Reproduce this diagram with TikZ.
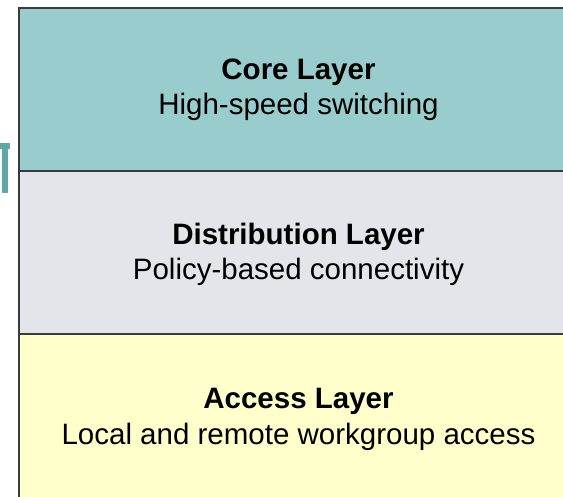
\documentclass[tikz,border=0pt]{standalone}
\usepackage{fontspec}
\setmainfont{Liberation Sans}
\begin{document}
\begin{tikzpicture}[x=1bp,y=-1bp,
  layerbox/.style={draw=edgegray,line width=2.2bp},
  titletext/.style={anchor=base,inner sep=0pt,font=\fontsize{29.5bp}{35bp}\selectfont\bfseries},
  subtext/.style={anchor=base,inner sep=0pt,font=\fontsize{29.5bp}{35bp}\selectfont}]
\definecolor{coreteal}{HTML}{99CCCC}
\definecolor{distgray}{HTML}{E4E5EA}
\definecolor{accyellow}{HTML}{FFFFCC}
\definecolor{edgegray}{HTML}{3A3A3A}
\definecolor{glyphteal}{HTML}{5EA9A6}
\useasboundingbox (0,0) rectangle (563,497);
\fill[white] (0,0) rectangle (563,497);

% cut-off letter at the left margin
\fill[glyphteal] (0,143) rectangle (9.5,149.5);
\fill[glyphteal] (1.5,143) rectangle (7.5,193);

% the three stacked layers
\draw[layerbox,fill=coreteal] (19,8) rectangle (590,171);
\draw[layerbox,fill=distgray] (19,171) rectangle (590,334);
\draw[layerbox,fill=accyellow] (19,334) rectangle (590,520);

% labels
\node[titletext] (coretitle) at (298.5,79.3) {Core Layer};
\node[subtext]   (coresub)   at (298.5,114.3) {High-speed switching};
\node[titletext] (disttitle) at (298.5,244.5) {Distribution Layer};
\node[subtext]   (distsub)   at (298.5,279.5) {Policy-based connectivity};
\node[titletext] (acctitle)  at (298.5,408.5) {Access Layer};
\node[subtext]   (accsub)    at (298.5,444.5) {Local and remote workgroup access};
\end{tikzpicture}
\end{document}
